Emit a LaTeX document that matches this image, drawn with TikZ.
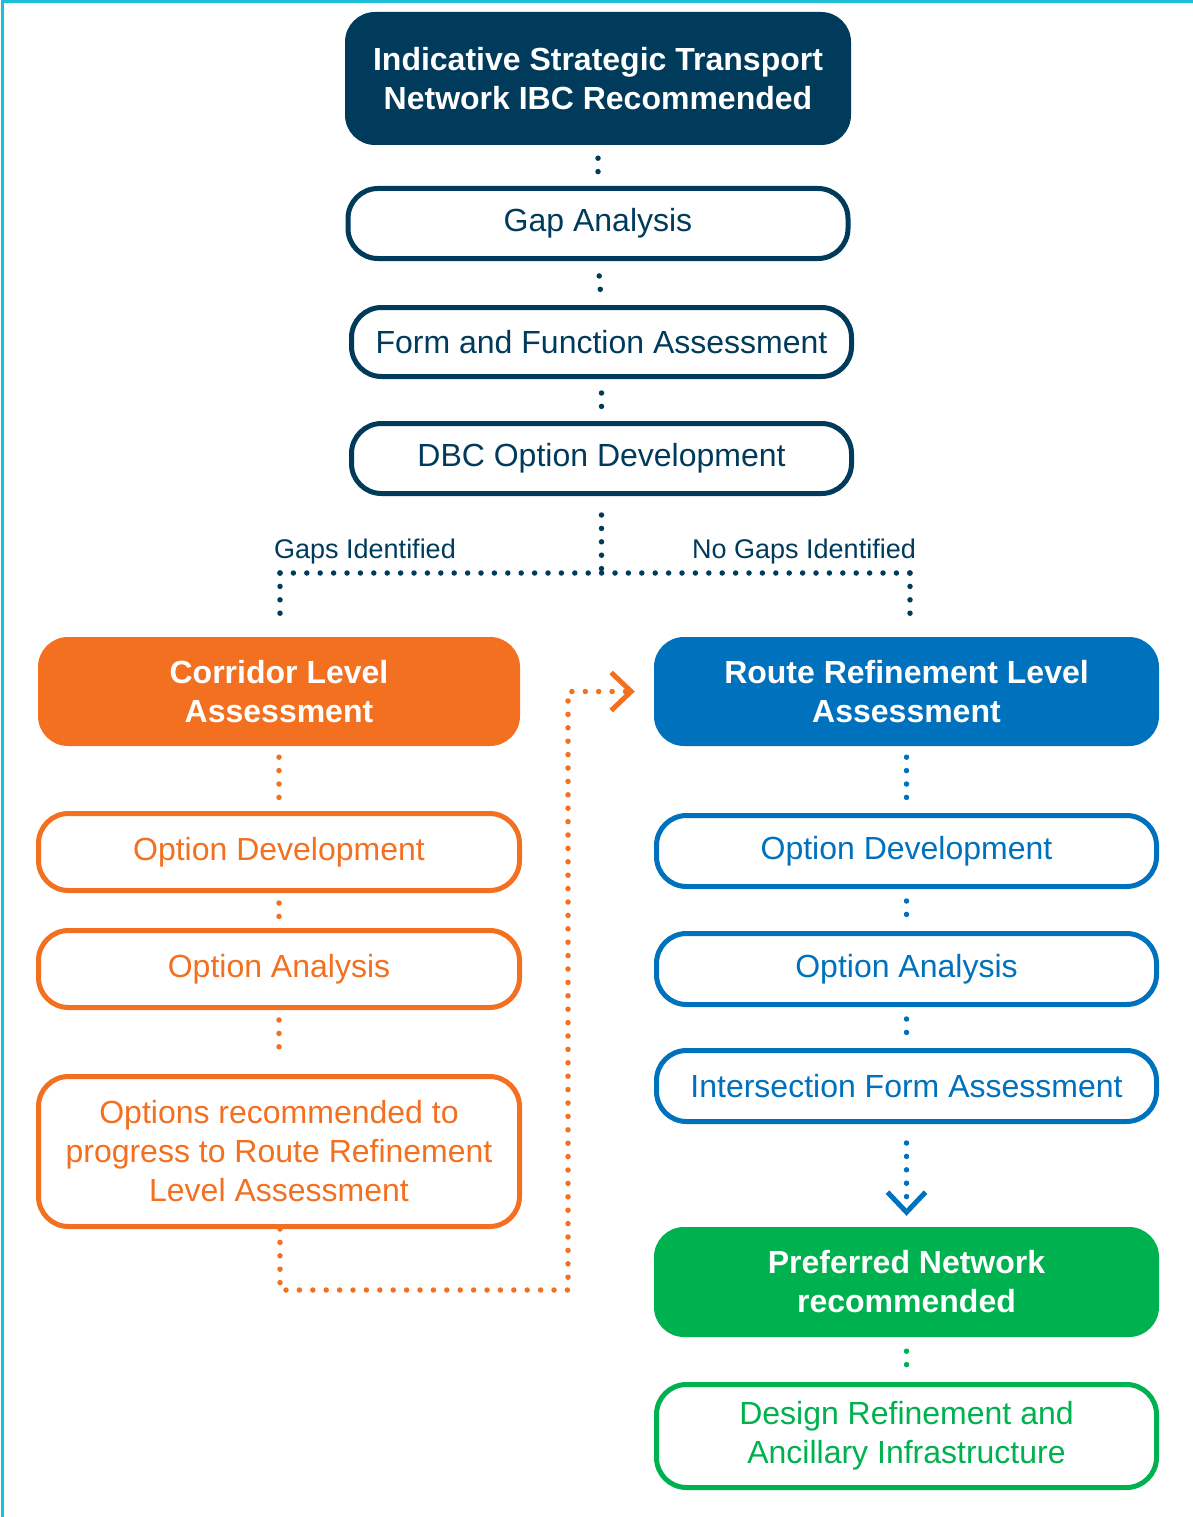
\documentclass[tikz,border=0pt]{standalone}
\usepackage{fontspec}
\setmainfont{Liberation Sans}
\usetikzlibrary{arrows.meta}
\definecolor{navy}{HTML}{003B5C}
\definecolor{corange}{HTML}{F37021}
\definecolor{cblue}{HTML}{0071BC}
\definecolor{cgreen}{HTML}{00B14F}
\definecolor{frame}{HTML}{1CBFD6}
\begin{document}
\begin{tikzpicture}[x=1pt,y=-1pt,
  base/.style={rectangle, rounded corners=30pt, inner sep=0pt, align=center,
    font=\fontsize{32}{39}\selectfont},
  filled/.style={base, fill=#1, text=white, font=\fontsize{32}{39}\selectfont\bfseries},
  outlined/.style={base, draw=#1, line width=5pt, fill=white, text=#1},
  dots/.style={draw=#1, line width=5.5pt, line cap=round, dash pattern=on 0pt off 13.4pt},
  chevron/.style={-{Straight Barb[length=20pt,width=38pt,line width=5pt]}},
  lbl/.style={text=navy, font=\fontsize{27}{32}\selectfont, anchor=base}
]
\useasboundingbox (0,0) rectangle (1193,1517);
% frame lines along the top and left edges
\draw[frame, line width=3pt] (1193,2) -- (2.5,2) -- (2.5,1517);

% main spine
\node[filled=navy, minimum width=506pt, minimum height=133pt] (ibc) at (598,78.5)
  {Indicative Strategic Transport\\Network IBC Recommended};
\node[outlined=navy, minimum width=500pt, minimum height=70pt] (gap) at (598,223.5) {Gap Analysis};
\node[outlined=navy, minimum width=500pt, minimum height=69pt] (form) at (601.5,342) {Form and Function Assessment};
\node[outlined=navy, minimum width=500pt, minimum height=70pt] (dbc) at (601.5,458.5) {DBC Option Development};

% left branch
\node[filled=corange, minimum width=482pt, minimum height=109pt] (corr) at (279,691.5)
  {Corridor Level\\Assessment};
\node[outlined=corange, minimum width=481pt, minimum height=77pt] (lod) at (279,852) {Option Development};
\node[outlined=corange, minimum width=481pt, minimum height=77pt] (loa) at (279,969) {Option Analysis};
\node[outlined=corange, minimum width=481pt, minimum height=150pt] (lor) at (279,1151.5)
  {Options recommended to\\progress to Route Refinement\\Level Assessment};

% right branch
\node[filled=cblue, minimum width=505pt, minimum height=109pt] (route) at (906.5,691.5)
  {Route Refinement Level\\Assessment};
\node[outlined=cblue, minimum width=500pt, minimum height=71pt] (rod) at (906.5,851) {Option Development};
\node[outlined=cblue, minimum width=500pt, minimum height=71pt] (roa) at (906.5,969) {Option Analysis};
\node[outlined=cblue, minimum width=500pt, minimum height=71pt] (rif) at (906.5,1086) {Intersection Form Assessment};
\node[filled=cgreen, minimum width=505pt, minimum height=110pt] (pref) at (906.5,1282)
  {Preferred Network\\recommended};
\node[outlined=cgreen, minimum width=500pt, minimum height=103pt] (des) at (906.5,1436)
  {Design Refinement and\\Ancillary Infrastructure};

% spine connectors
\draw[dots=navy, shorten <=13pt, shorten >=13pt] (ibc.south) -- (gap.north);
\draw[dots=navy, shorten <=15pt, shorten >=13pt] (gap.south) -- (form.north);
\draw[dots=navy, shorten <=14pt, shorten >=13pt] (form.south) -- (dbc.north);

% split into the two branches
\coordinate (jl) at (280,573);
\coordinate (jr) at (910,573);
\draw[dots=navy, shorten <=19pt] (dbc.south) -- (dbc.south |- jl);
\draw[dots=navy] (jl) -- (jr);
\draw[dots=navy, shorten >=17pt] (jl) -- (jl |- corr.north);
\draw[dots=navy, shorten >=17pt] (jr) -- (jr |- route.north);
\node[lbl] (gl) at (365,558) {Gaps Identified};
\node[lbl] (ngl) at (804,558) {No Gaps Identified};

% left branch connectors
\draw[dots=corange, shorten <=11pt, shorten >=13pt] (corr.south) -- (lod.north);
\draw[dots=corange, shorten <=10pt, shorten >=10pt] (lod.south) -- (loa.north);
\draw[dots=corange, shorten <=10pt, shorten >=14pt] (loa.south) -- (lor.north);

% hand-over from the corridor branch to route refinement
\coordinate (lb) at (280,1290);
\coordinate (rb) at (568,1290);
\coordinate (rt) at (568,691.5);
\draw[dots=corange, chevron, shorten >=19pt] (lor.south -| lb) -- (lb) -- (rb) -- (rt) -- (route.west);

% right branch connectors
\draw[dots=cblue, shorten <=11pt, shorten >=13pt] (route.south) -- (rod.north);
\draw[dots=cblue, shorten <=12pt, shorten >=13pt] (rod.south) -- (roa.north);
\draw[dots=cblue, shorten <=12pt, shorten >=13pt] (roa.south) -- (rif.north);
\draw[dots=cblue, chevron, shorten <=19pt, shorten >=11pt] (rif.south) -- (pref.north);
\draw[dots=cgreen, shorten <=14pt, shorten >=16pt] (pref.south) -- (des.north);
\end{tikzpicture}
\end{document}
